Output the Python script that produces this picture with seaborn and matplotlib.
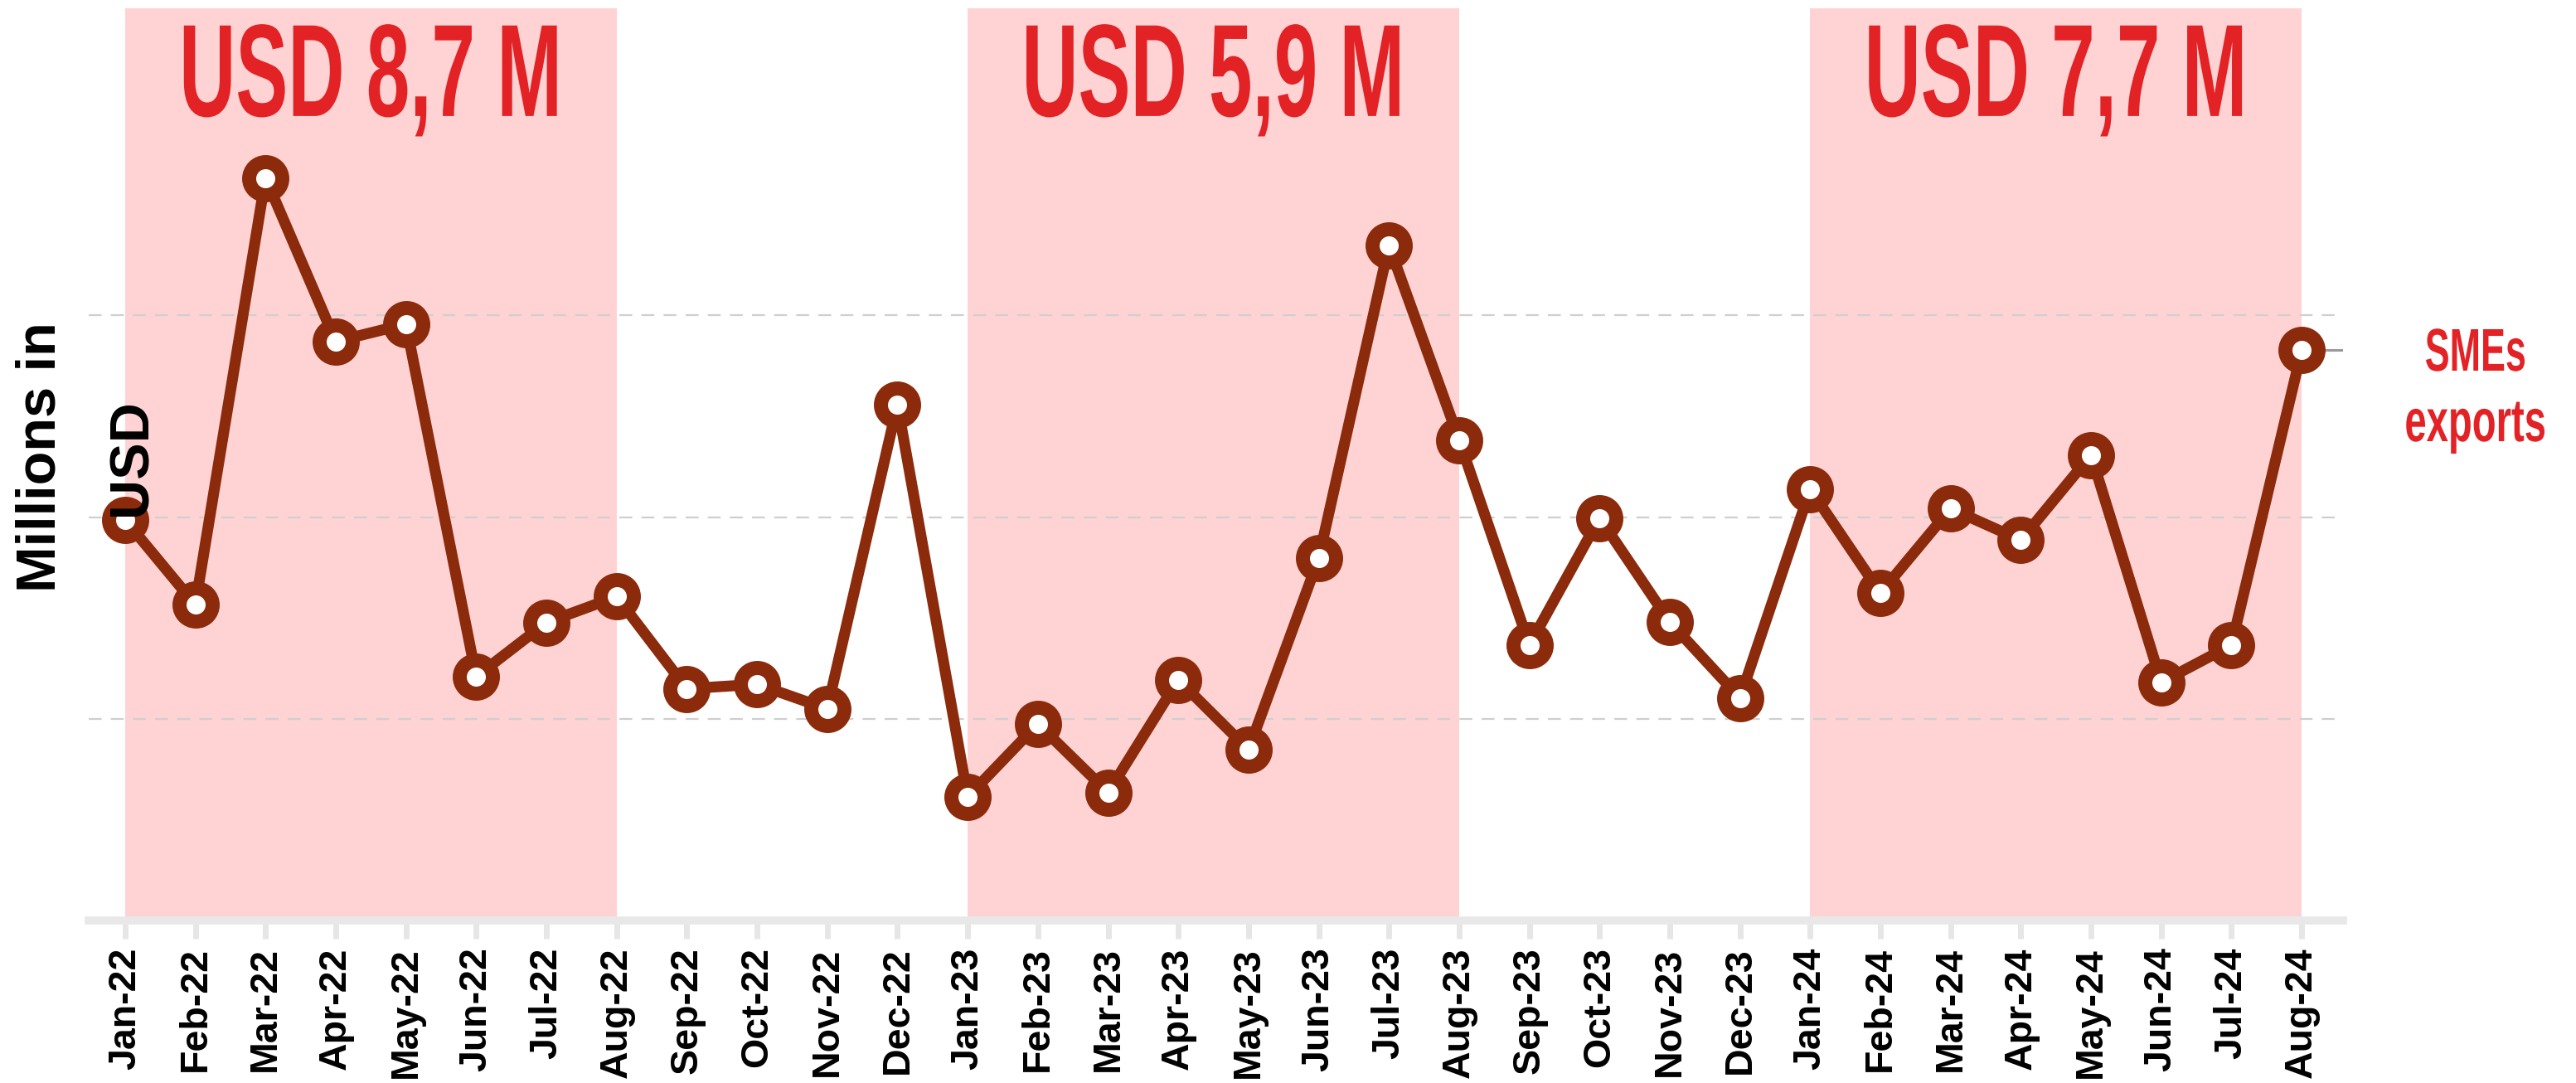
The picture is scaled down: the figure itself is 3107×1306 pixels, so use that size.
import numpy as np
import pandas as pd
import matplotlib
matplotlib.use('Agg')
import matplotlib.pyplot as plt
from matplotlib.patheffects import AbstractPathEffect
from matplotlib.transforms import Affine2D
import seaborn as sns


months = ['Jan-22', 'Feb-22', 'Mar-22', 'Apr-22', 'May-22', 'Jun-22', 'Jul-22', 'Aug-22',
          'Sep-22', 'Oct-22', 'Nov-22', 'Dec-22',
          'Jan-23', 'Feb-23', 'Mar-23', 'Apr-23', 'May-23', 'Jun-23', 'Jul-23', 'Aug-23',
          'Sep-23', 'Oct-23', 'Nov-23', 'Dec-23',
          'Jan-24', 'Feb-24', 'Mar-24', 'Apr-24', 'May-24', 'Jun-24', 'Jul-24', 'Aug-24']

# monthly SME exports, millions of USD
exports = [0.993, 0.783, 1.840, 1.435, 1.478, 0.605, 0.739, 0.803,
           0.575, 0.586, 0.525, 1.279,
           0.307, 0.488, 0.318, 0.597, 0.424, 0.898, 1.673, 1.191,
           0.683, 0.998, 0.740, 0.552,
           1.069, 0.812, 1.021, 0.943, 1.154, 0.591, 0.683, 1.413]

# highlighted Jan-Aug windows and their totals
period_start = ['Jan-22', 'Jan-23', 'Jan-24']
period_end = ['Aug-22', 'Aug-23', 'Aug-24']
period_total = ['USD 8,7 M', 'USD 5,9 M', 'USD 7,7 M']

grid_levels = [0.5, 1.0, 1.5]

df = pd.DataFrame({'month': months, 'exports': exports})
df['pos'] = np.arange(len(df))

line_col = '#8c2a0c'
red = '#e32226'
pink = '#ffd3d3'


# no condensed font installed -> squeeze glyphs sideways (around their centre)
# and/or stretch them upwards (from the baseline)
class Stretch(AbstractPathEffect):
    def __init__(self, sx=1.0, sy=1.0):
        super().__init__()
        self.sx = sx
        self.sy = sy

    def draw_path(self, renderer, gc, tpath, affine, rgbFace=None):
        ext = tpath.get_extents()
        cx = (ext.x0 + ext.x1) / 2
        st = Affine2D().translate(-cx, 0).scale(self.sx, self.sy).translate(cx, 0)
        renderer.draw_path(gc, tpath, st + affine, rgbFace)


sns.set_style('white')
plt.rcParams['font.family'] = ['Liberation Sans', 'DejaVu Sans']
plt.rcParams['text.color'] = 'black'
plt.rcParams['xtick.color'] = 'black'

fig = plt.figure(figsize=(31.07, 13.06), dpi=100)
ax = fig.add_axes([0.0344, 0.1497, 0.9096 - 0.0344, 0.9923 - 0.1497])

# shaded Jan-Aug periods
for s, e, lab in zip(period_start, period_end, period_total):
    x0 = months.index(s)
    x1 = months.index(e)
    ax.axvspan(x0, x1, color=pink, zorder=0.1, lw=0)
    ax.text((x0 + x1) / 2, 0.882, lab, transform=ax.get_xaxis_transform(),
            ha='center', va='baseline', color=red, fontsize=68,
            fontweight='bold', path_effects=[Stretch(1.0, 1.68)])

# dashed reference lines
for g in grid_levels:
    ax.axhline(g, color='#cfcfcf', lw=1.6, ls=(0, (7, 5)), zorder=0.5)

sns.lineplot(data=df, x='pos', y='exports', ax=ax, color=line_col, linewidth=9.5,
             marker='o', markersize=28.8, markerfacecolor='white',
             markeredgecolor=line_col, markeredgewidth=12.2, zorder=3)

ax.set_xlim(-0.52, 31.59)
ax.set_ylim(0, 2.26)

# short connector from last point to the series label
ax.hlines(exports[-1], len(exports) - 1, ax.get_xlim()[1], color='#9a9a9a', lw=2.2, zorder=2)

ax.set_xticks(df['pos'])
ax.set_xticklabels(months, rotation=90, fontsize=33.5, fontweight='bold', color='black')
ax.set_yticks([])
ax.set_xlabel('')
ax.set_ylabel('')

for side in ['top', 'right', 'left']:
    ax.spines[side].set_visible(False)
ax.spines['bottom'].set_color('#e8e8e8')
ax.spines['bottom'].set_linewidth(7)
ax.spines['bottom'].set_zorder(1)
ax.tick_params(axis='x', length=16, width=5, color='#e6e6e6', pad=7, bottom=True,
               labelcolor='black')

fig.text(0.0335, 0.578, 'Millions in\nUSD', rotation=90, ha='center', va='center',
         multialignment='center', fontsize=48, fontweight='bold', linespacing=2.0,
         color='black')

fig.text(0.961, 1 - 447 / 1306, 'SMEs', ha='center', va='baseline', color=red,
         fontsize=34, fontweight='bold', path_effects=[Stretch(0.95, 1.54)])
fig.text(0.961, 1 - 532 / 1306, 'exports', ha='center', va='baseline', color=red,
         fontsize=34, fontweight='bold', path_effects=[Stretch(1.0, 1.54)])

fig.savefig('out.png', dpi=100)
